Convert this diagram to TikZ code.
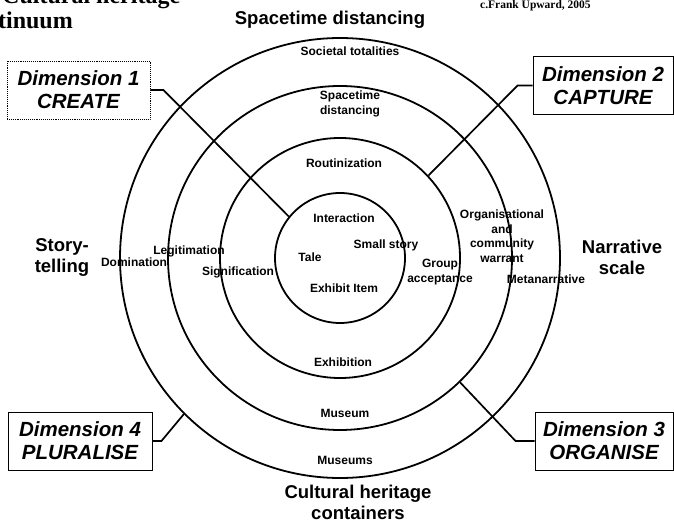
\documentclass[tikz,border=0pt]{standalone}
\usepackage{fontspec}
\setmainfont{Liberation Sans}
\newfontfamily\titlefont{Liberation Serif}
\usetikzlibrary{positioning}

\begin{document}
\begin{tikzpicture}[x=1pt, y=-1pt,
  ring/.style = {draw, circle, line width=1.8pt, inner sep=0pt},
  lab/.style = {font=\fontsize{12}{14.5}\selectfont\bfseries, inner sep=0pt, align=center},
  axis/.style = {font=\fontsize{18.5}{21}\selectfont\bfseries, inner sep=0pt, align=center},
  dimbox/.style = {draw, line width=0.9pt, minimum height=58pt, inner sep=0pt, align=center,
    font=\fontsize{20.5}{23}\selectfont\bfseries\itshape},
  link/.style = {line width=1.7pt}]
\useasboundingbox (0,0) rectangle (674,526);
\node[font=\titlefont\fontsize{24}{28}\selectfont\bfseries, anchor=base west, inner sep=0pt] (t1) at (2,4) {Cultural heritage};
\node[font=\titlefont\fontsize{24}{28}\selectfont\bfseries, anchor=base east, inner sep=0pt] (t2) at (73,29) {continuum};
\node[font=\titlefont\fontsize{11.5}{13}\selectfont\bfseries, anchor=base west, inner sep=0pt] (t3) at (480,9) {c.Frank Upward, 2005};
\node[ring, minimum size=440pt] (c4) at (340,258) {};
\node[ring, minimum size=344pt] (c3) at (340,258) {};
\node[ring, minimum size=240pt] (c2) at (340,258) {};
\node[ring, minimum size=130pt] (c1) at (340,258) {};
\node[lab] (l1) at (350,51) {Societal totalities};
\node[lab] (l2) at (350,104) {Spacetime\\distancing};
\node[lab] (l3) at (344,163) {Routinization};
\node[lab] (l4) at (344,218) {Interaction};
\node[lab] (l5) at (386,245) {Small story};
\node[lab] (l6) at (310,257) {Tale};
\node[lab] (l7) at (344,288) {Exhibit Item};
\node[lab] (l8) at (440,272) {Group\\acceptance};
\node[lab] (l9) at (502,236) {Organisational\\and\\community\\warrant};
\node[lab] (l10) at (546,279) {Metanarrative};
\node[lab] (l11) at (189,251) {Legitimation};
\node[lab] (l12) at (134,262) {Domination};
\node[lab] (l13) at (238,272) {Signification};
\node[lab] (l14) at (343,362) {Exhibition};
\node[lab] (l15) at (345,413) {Museum};
\node[lab] (l16) at (345,460) {Museums};
\node[axis] (a1) at (330,20) {Spacetime distancing};
\node[axis] (a2) at (62,258) {Story-\\telling};
\node[axis] (a3) at (622,257) {Narrative\\scale};
\node[axis] (a4) at (358,502) {Cultural heritage\\containers};
\node[dimbox, densely dotted, minimum width=143pt] (d1) at (78.5,90) {Dimension 1\\CREATE};
\node[dimbox, minimum width=140pt] (d2) at (603,85.5) {Dimension 2\\CAPTURE};
\node[dimbox, minimum width=138pt] (d3) at (604,441) {Dimension 3\\ORGANISE};
\node[dimbox, minimum width=144pt] (d4) at (80,441) {Dimension 4\\PLURALISE};
\draw[link] (d1.east) -- ++(13,0) -- (c1.141);
\draw[link] (d2.west) -- ++(-15,0) -- (c2.43);
\draw[link] (d3.west) -- ++(-19,0) -- (c3.-46);
\draw[link] (d4.east) -- ++(9,0) -- (c4.-135);
\end{tikzpicture}
\end{document}
